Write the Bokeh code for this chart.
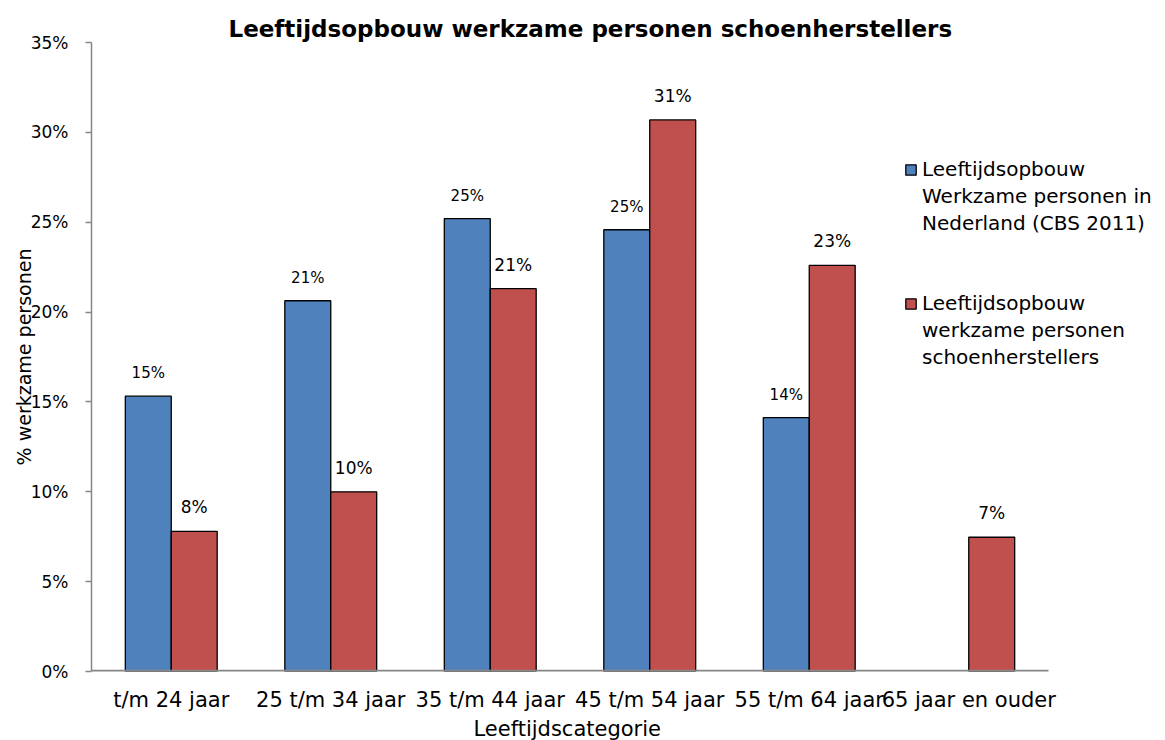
from bokeh.plotting import figure
from bokeh.models import (ColumnDataSource, Range1d, FixedTicker, Title,
                          PrintfTickFormatter, Legend, LegendItem)
from bokeh.transform import dodge
from bokeh.core.properties import value
from bokeh.embed import file_html
from bokeh.resources import INLINE

categories = ["t/m 24 jaar", "25 t/m 34 jaar", "35 t/m 44 jaar",
              "45 t/m 54 jaar", "55 t/m 64 jaar", "65 jaar en ouder"]
nederland = [15.32, 20.63, 25.2, 24.58, 14.13, float("nan")]
schoenherstellers = [7.8, 10.0, 21.3, 30.69, 22.6, 7.47]
y_ticks = [0, 5, 10, 15, 20, 25, 30, 35]

title_text = "Leeftijdsopbouw werkzame personen schoenherstellers"
x_title = "Leeftijdscategorie"
y_title = "% werkzame personen"
legend_lines = [["Leeftijdsopbouw", "Werkzame personen in", "Nederland (CBS 2011)"],
                ["Leeftijdsopbouw", "werkzame personen", "schoenherstellers"]]

FONT = "DejaVu Sans"
BLUE = "#4F81BD"
RED = "#C0504D"
AXIS = "#868686"

W, H = 1165, 740
LEFT, TOP, BOTTOM, RIGHT = 91, 42, 68, 3
cat_px = 957.0  # pixel width of the category area
frame_w = W - LEFT - RIGHT
frame_bottom = H - BOTTOM
n = len(categories)
x_end = n * frame_w / cat_px


def lab(v):
    return "" if v != v else f"{round(v):.0f}%"


xc = [i + 0.5 for i in range(n)]
src_b = ColumnDataSource(dict(x=xc[:5], val=nederland[:5],
                              lbl=[lab(v) for v in nederland[:5]]))
src_r = ColumnDataSource(dict(x=xc, val=schoenherstellers,
                              lbl=[lab(v) for v in schoenherstellers]))

p = figure(width=W, height=H, x_range=Range1d(0, x_end),
           y_range=Range1d(0, 35), output_backend="svg", toolbar_location=None,
           min_border_left=LEFT, min_border_right=RIGHT, min_border_top=TOP,
           min_border_bottom=BOTTOM)
p.outline_line_color = None
p.xgrid.grid_line_color = None
p.ygrid.grid_line_color = None

bw = 0.288
rb = p.vbar(x=dodge("x", -bw / 2), top="val", width=bw, source=src_b,
            fill_color=BLUE, line_color="black", line_width=1.3)
rr = p.vbar(x=dodge("x", bw / 2), top="val", width=bw, source=src_r,
            fill_color=RED, line_color="black", line_width=1.3)
blank = p.vbar(x=[], top=[], width=bw, fill_alpha=0, line_alpha=0)

p.text(x=dodge("x", -bw / 2), y="val", text="lbl", source=src_b,
       text_align="center", text_baseline="middle", y_offset=-23,
       text_font=value(FONT), text_font_size="15px", text_color="black")
p.text(x=dodge("x", bw / 2), y="val", text="lbl", source=src_r,
       text_align="center", text_baseline="middle", y_offset=-24,
       text_font=value(FONT), text_font_size="17px", text_color="black")

# x axis baseline over the category area only
p.segment(x0=[0], x1=[n], y0=[0], y1=[0], line_color=AXIS, line_width=3.5)

# y axis
ya = p.yaxis[0]
ya.ticker = FixedTicker(ticks=y_ticks)
ya.formatter = PrintfTickFormatter(format="%d%%")
ya.major_label_text_font = FONT
ya.major_label_text_font_size = "17px"
ya.major_label_text_color = "black"
ya.major_tick_out = 6
ya.major_tick_in = 0
ya.minor_tick_line_color = None
ya.major_label_standoff = 17
ya.axis_line_color = AXIS
ya.axis_line_width = 1.5
ya.major_tick_line_color = AXIS
ya.major_tick_line_width = 1.5
ya.axis_label = y_title
ya.axis_label_text_font = FONT
ya.axis_label_text_font_size = "19px"
ya.axis_label_text_font_style = "normal"
ya.axis_label_text_color = "black"
ya.axis_label_standoff = -7

# x axis
xa = p.xaxis[0]
xa.ticker = FixedTicker(ticks=xc)
xa.major_label_overrides = {x: c for x, c in zip(xc, categories)}
xa.major_tick_line_color = None
xa.major_tick_out = 0
xa.major_tick_in = 0
xa.minor_tick_line_color = None
xa.minor_tick_out = 0
xa.major_label_text_font = FONT
xa.major_label_text_font_size = "21px"
xa.major_label_text_color = "black"
xa.major_label_standoff = 16
xa.axis_label_standoff = 0
xa.axis_line_color = None

p.title.text = title_text
p.title.text_font = FONT
p.title.text_font_size = "23px"
p.title.text_font_style = "bold"
p.title.text_color = "black"
p.title.align = "left"
p.title.offset = 228 - LEFT
p.title.standoff = 2

p.add_layout(Title(text=x_title, text_font=FONT, text_font_size="21px",
                   text_font_style="normal", text_color="black",
                   align="left", offset=473 - LEFT, standoff=0), "below")


def make_legend(lines, renderer, bottom_px):
    its = [LegendItem(label=lines[0], renderers=[renderer])]
    its += [LegendItem(label=t, renderers=[blank]) for t in lines[1:]]
    return Legend(items=its, location=(904 - LEFT, frame_bottom - bottom_px),
                  glyph_width=13, glyph_height=13, label_standoff=5, spacing=3,
                  padding=0, margin=0, border_line_color=None,
                  background_fill_alpha=0, label_text_font=FONT,
                  label_text_font_size="20px", label_text_color="black")


p.add_layout(make_legend(legend_lines[0], rb, 236), "center")
p.add_layout(make_legend(legend_lines[1], rr, 370), "center")

open("out.html", "w").write(file_html(p, INLINE))
